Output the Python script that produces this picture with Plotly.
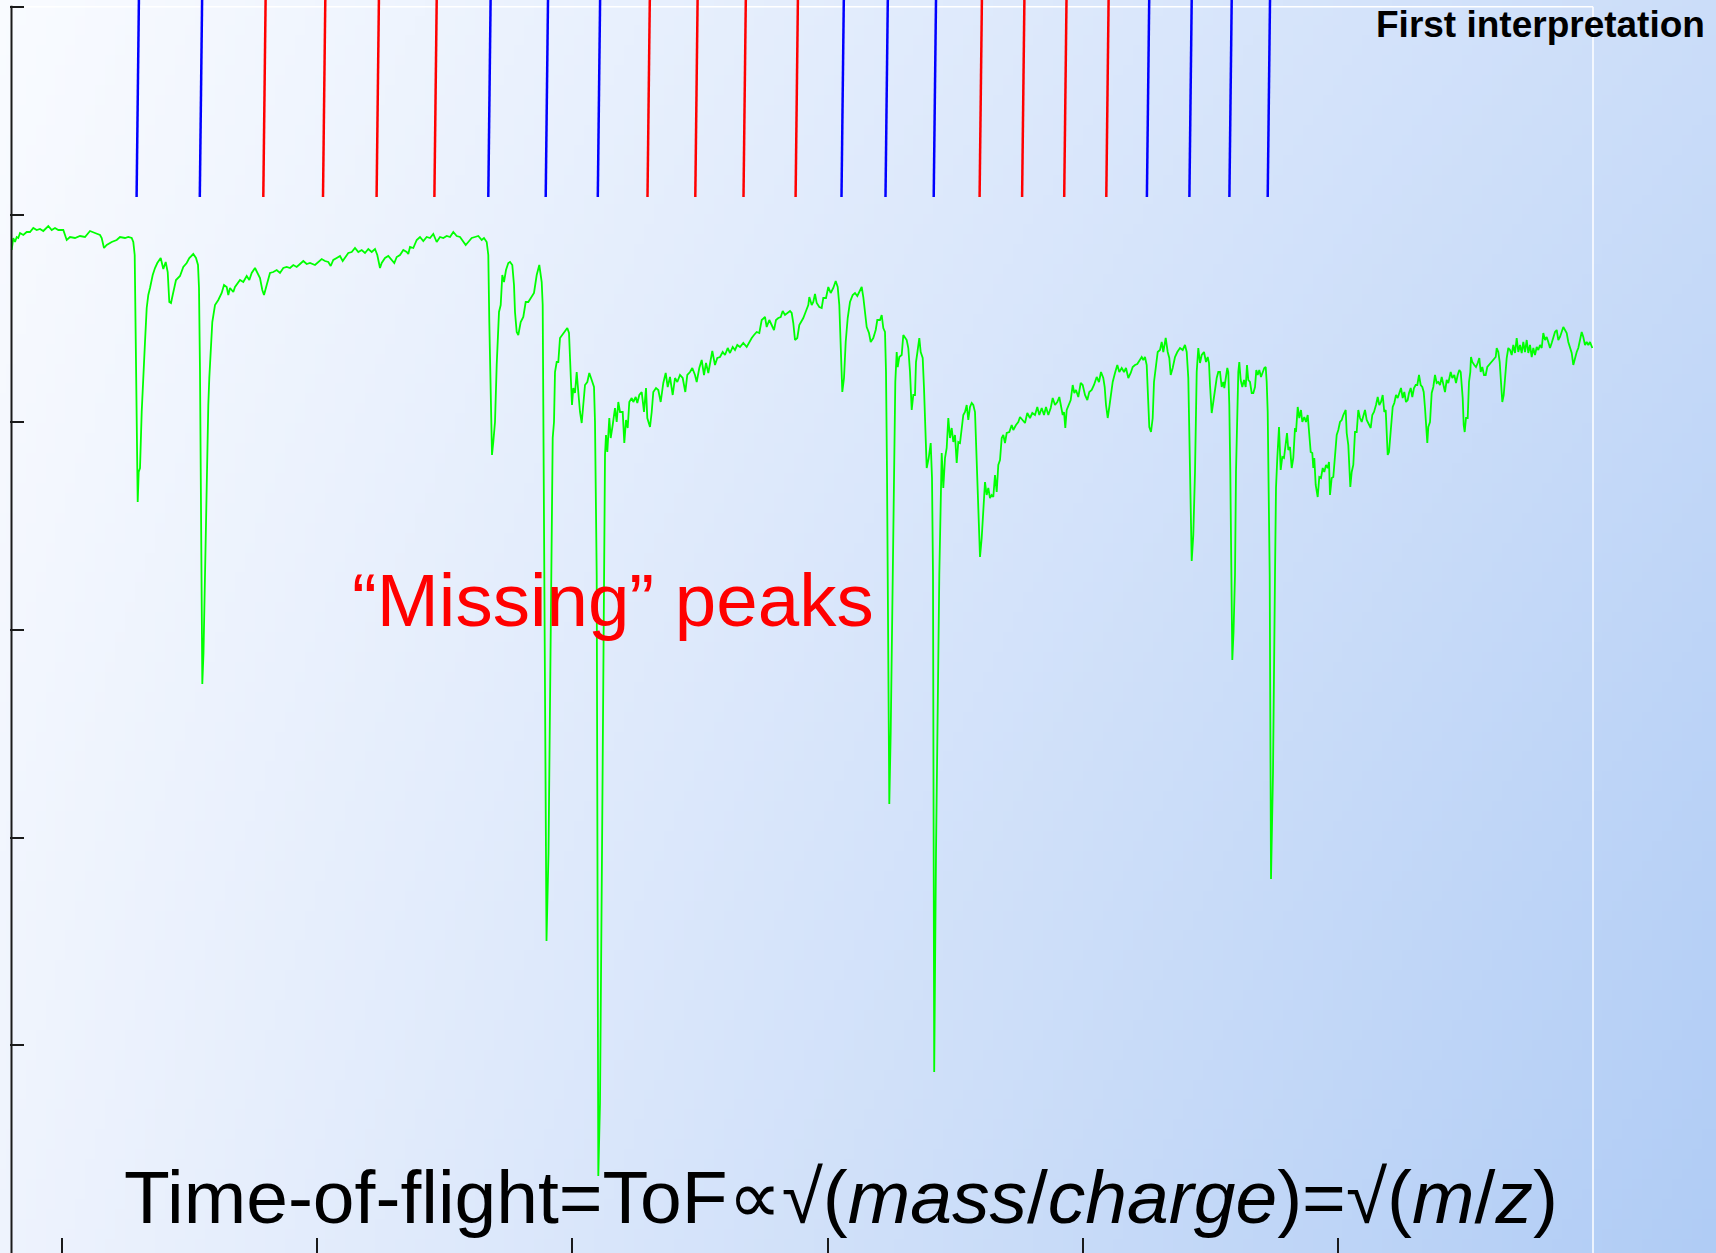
import base64
import struct
import zlib

import numpy as np
import plotly.graph_objects as go

# ---------------- data (ToF channel, detector counts) ----------------
seg1_tof = [11.7, 13.3, 15, 16.7, 18.3, 20, 23.3, 26.7, 30, 33.3, 36.7, 40, 43.3, 48.3, 51.7, 55, 58.3, 63.3,
            66.7, 70, 75, 80, 85, 90, 95, 100, 101.7, 104, 106.7, 111.7, 116.7, 120, 125, 128.3, 131.7, 133.3,
            134.7, 135.3, 136, 136.7, 137.7, 138.7, 140, 141.7, 143.3, 145, 146.7, 148.3, 150, 152.7, 155,
            157.3, 160.7, 163.3, 165.7, 167.7, 169.3, 171, 172.7, 176, 180, 183.3, 186.7, 189.3, 193.3, 196,
            198, 199, 200, 201]
seg1_cnt = [1003, 1015, 1011, 1016, 1015, 1020, 1018, 1021, 1021, 1025, 1023, 1024, 1022, 1027, 1023, 1025, 1023, 1023,
            1013, 1016, 1015, 1017, 1016, 1022, 1020, 1018, 1015, 1005, 1008, 1011, 1013, 1016, 1015, 1016, 1015, 1011,
            998, 948, 881, 815, 751, 781, 785, 841, 881, 911, 945, 958, 965, 978, 985,
            990, 995, 984, 991, 981, 951, 950, 958, 973, 977, 986, 990, 995, 999, 995,
            988, 965, 881, 748]

seg2_tof = [202.3, 203.5, 205, 206.7, 208.3, 209.3, 210.7, 212.3, 215, 218.3, 221.7, 224, 226.7, 228.3, 230, 233.3,
            235, 238.3, 240, 243.3, 246.7, 249.3, 251.7, 255, 257.3, 260, 262.3, 264, 266.7, 270, 273.3, 276.7, 280,
            283.3, 286.7, 290, 293.3, 296.7, 300, 303.3, 306.7, 310, 315, 318.3, 321.7, 325, 328.3, 330.7, 333.3,
            336.7, 340, 342.7, 345, 348.3, 351.7, 355, 358.3, 361.7, 365, 368.3, 371.7, 375, 377.3, 380, 381.7,
            385, 388.3, 391.7, 394.3, 396.7, 400]
seg2_cnt = [569, 600, 678, 781, 848, 875, 908, 931, 948, 953, 960, 968, 966, 958, 965, 961,
            966, 970, 973, 971, 977, 973, 980, 985, 980, 975, 963, 958, 968, 980, 981, 983, 980,
            985, 986, 985, 988, 986, 989, 992, 989, 990, 988, 991, 994, 992, 991, 987, 993,
            995, 997, 992, 995, 1000, 1001, 1005, 1001, 1003, 1000, 1004, 1001, 1004, 998, 985, 990,
            995, 997, 993, 990, 996, 998]

seg3_tof = [403.3, 406.7, 408.3, 410, 413.3, 416.7, 420, 423.3, 426.7, 430, 433.3, 436.7, 440, 443.3, 446.7, 450,
            453.3, 456.7, 460, 463.3, 465.7, 468.3, 471.7, 475, 478.3, 481.7, 484, 486.7, 488.3, 489.3, 490.7, 492,
            493.3, 495, 496.7, 499, 500.7, 502.3, 504, 506, 508.3, 510, 512.3, 514, 515, 516.7, 518.3, 520.7,
            523.3, 525.7, 528.3, 531.7, 534, 536.7, 539.3, 541.7, 542.7, 543.3, 544.3]
seg3_cnt = [1003, 1001, 999, 1006, 1005, 1013, 1016, 1012, 1016, 1015, 1019, 1011, 1016, 1015, 1017, 1016,
            1021, 1017, 1016, 1011, 1008, 1011, 1015, 1016, 1017, 1013, 1015, 1011, 998, 931, 865, 798,
            811, 831, 888, 941, 948, 978, 971, 983, 990, 991, 988, 968, 941, 921, 918, 931,
            936, 951, 951, 956, 960, 978, 988, 971, 948, 848, 678]

seg4_tof = [546.5, 548.5, 551.7, 552.7, 554, 555, 556.7, 558.3, 560, 563.3, 565.7, 567.3, 569, 570, 571, 572,
            573.3, 575, 576.7, 578.3, 580, 581.7, 583.3, 585, 587.3, 589.3, 591.7, 594, 595, 596, 596.7, 598.3,
            600, 602, 604, 605, 606, 607.3, 609.3, 610.7, 612.7, 615, 616.7, 618.3, 620, 622.7, 624.3, 626,
            627.7, 629.3, 631.7, 633.3, 635.7, 637.3, 639.3]
seg4_cnt = [312, 400, 678, 815, 831, 881, 891, 891, 915, 920, 923, 925, 920, 901, 871, 848,
            865, 860, 881, 861, 841, 830, 845, 868, 871, 880, 873, 866, 831, 748, 678, 77,
            150, 400, 678, 798, 818, 801, 835, 815, 828, 845, 831, 851, 841, 841, 810, 833,
            825, 851, 855, 851, 856, 850, 858]

seg5_tof = [641.7, 644, 646, 647.3, 650, 651.7, 653.3, 656, 658.3, 660.7, 663.3, 665.7, 667.7, 670, 672.7, 675,
            677.3, 680, 682.7, 685.3, 687.3, 690, 692.3, 695, 696.7, 699.3, 701.7, 704, 706, 708.3, 710.7, 712.3,
            715, 717.3, 720, 722.7, 725, 727.7, 730, 732.7, 735, 737.3, 740, 743.3, 746.7, 749.3, 751.7, 754,
            756.7, 759.3, 761.7, 765, 766.7, 769.3, 771.7, 774, 776, 778.3, 780.7, 782.7, 785, 787.3, 790,
            791.7, 793.3, 795, 797.3, 799.3]
seg5_cnt = [861, 841, 865, 835, 826, 841, 861, 865, 863, 851, 870, 880, 866, 876, 858, 875,
            871, 878, 875, 861, 878, 881, 885, 878, 871, 885, 893, 878, 890, 880, 895, 902,
            888, 895, 896, 901, 898, 905, 900, 906, 903, 908, 906, 910, 906, 911, 915, 918,
            921, 920, 933, 936, 926, 933, 928, 923, 933, 935, 936, 942, 938, 940, 942,
            940, 930, 913, 915, 928]

seg6_tof = [803.3, 806, 808.3, 809.3, 811.7, 813.3, 815, 816.7, 819.3, 821.7, 823.3, 826, 828.3, 830.7, 833.3,
            835.7, 837.7, 839.3, 840.7, 842.3, 844, 845.7, 847.7, 850, 852.7, 855, 857.3, 859.3, 861.7, 863.3,
            865, 866.7, 869, 870.7, 873.3, 875.7, 877.3, 880, 881.7, 883.3, 885, 886, 887, 887.7, 889.3, 890.7,
            892.7, 894, 895.3, 896.7, 897.7, 899.3, 901.7, 903.3, 905, 906.7, 908.3, 910, 911.7, 913.3, 915,
            916, 917.3, 919.3, 920.7, 922.7, 924, 925.3, 926.7, 928.7, 930.7, 932, 933]
seg6_cnt = [935, 942, 948, 956, 948, 951, 959, 950, 946, 945, 955, 955, 966, 960, 965,
            972, 966, 948, 915, 861, 875, 911, 935, 951, 958, 960, 957, 961, 966, 956,
            938, 926, 920, 911, 915, 923, 933, 933, 938, 925, 921, 881, 781, 678, 449, 520,
            678, 815, 871, 901, 886, 896, 898, 918, 916, 913, 905, 881, 843, 858, 858,
            891, 900, 915, 901, 895, 865, 821, 785, 795, 810, 775, 678]

seg7_tof = [934.2, 936, 939.3, 940.7, 941.7, 943.3, 945, 946.7, 948.3, 950, 951.7, 953.3, 955, 956.7, 958.3,
            960, 961.7, 963.3, 965, 966.7, 968.3, 970, 971.7, 973.3, 975, 976, 977.3, 978.7, 980, 981.7, 983.3,
            985, 986.7, 988.3, 990, 991.7, 993.3, 995, 996.7, 998.3, 1000]
seg7_cnt = [181, 400, 678, 765, 800, 765, 795, 805, 835, 815, 825, 811, 818, 790, 811,
            810, 828, 838, 841, 848, 833, 846, 850, 848, 841, 808, 771, 728, 696, 715, 748,
            771, 758, 765, 755, 758, 756, 778, 761, 788, 793]

seg8_tof = [1001.7, 1003.3, 1005, 1006.7, 1009.3, 1011.7, 1013.3, 1016, 1018.3, 1020, 1022.7, 1025, 1027.3, 1030,
            1032.3, 1035, 1037.3, 1039.3, 1041.7, 1044, 1046, 1048.3, 1050.7, 1052.7, 1055, 1057.3, 1059.3, 1061,
            1062.7, 1064, 1065.3, 1066.7, 1069, 1070.7, 1072.7, 1074.3, 1076, 1078.3, 1080.7, 1082.7, 1085, 1087.3,
            1089.3, 1091.7, 1094, 1096.7, 1099, 1101, 1103.3, 1104.7, 1106, 1107.7, 1109.3, 1111, 1112.7, 1115,
            1117.3, 1119.3, 1121.7, 1124, 1126, 1128.3, 1130.7, 1132.7, 1135, 1137.3, 1140, 1141.7, 1143.3, 1145,
            1146.7, 1148, 1149.3, 1151, 1152.7, 1154, 1156, 1157.7, 1160, 1161.7, 1163.3, 1165.7, 1167.7, 1169.3,
            1170.7, 1172.7, 1175, 1177.3, 1180, 1182.7, 1185, 1186.7, 1188.3, 1189.3, 1190.7, 1191.7, 1193.3, 1195]
seg8_cnt = [815, 818, 810, 820, 821, 828, 823, 828, 831, 836, 833, 830, 840, 835,
            840, 838, 846, 838, 845, 838, 846, 838, 845, 855, 848, 851, 856, 848,
            838, 841, 825, 843, 848, 853, 868, 860, 863, 856, 870, 868, 858, 853,
            861, 863, 868, 876, 871, 881, 875, 866, 848, 835, 846, 858, 871, 880,
            888, 881, 885, 881, 885, 875, 880, 886, 888, 889, 893, 896, 893, 896,
            888, 861, 826, 821, 835, 871, 891, 901, 903, 911, 901, 915, 901, 895,
            878, 885, 896, 901, 905, 903, 908, 901, 875, 815, 748, 692, 718, 781]

seg9_tof = [1196.7, 1198.3, 1200, 1201.7, 1204, 1206, 1207.7, 1209, 1210, 1211.7, 1213.3, 1215, 1216.7, 1218.3,
            1220, 1221.7, 1223.3, 1224.3, 1226, 1227.3, 1228.3, 1229.3, 1230.3, 1231.3, 1232.3, 1233.5, 1235, 1236,
            1237, 1237.7, 1238.3, 1239.3, 1240.7, 1242.3, 1244, 1245.7, 1247, 1248.3, 1250, 1251.7, 1253.3, 1255,
            1256.3, 1257.7, 1259.3, 1261, 1262.7, 1264.3, 1265.7, 1266.7, 1267.7, 1268.7, 1269.7]
seg9_cnt = [881, 905, 890, 898, 901, 891, 896, 890, 868, 840, 851, 866, 875, 881,
            881, 866, 871, 865, 876, 885, 881, 848, 781, 678, 593, 620, 678, 781,
            831, 848, 881, 891, 873, 866, 873, 866, 888, 873, 871, 860, 860, 866,
            883, 878, 883, 876, 881, 885, 886, 871, 841, 781, 678]

seg10_tof = [1271, 1273, 1275, 1276, 1277.3, 1279, 1280.7, 1282.3, 1284, 1285.7, 1287, 1288.3, 1290, 1291.7, 1293.3,
             1295, 1296, 1297.7, 1299.3, 1301, 1302.3, 1304.3, 1306, 1307.7, 1309, 1310.7, 1312.3, 1313.3, 1314.3,
             1315.7, 1317.7, 1319.3, 1321, 1322.7, 1324.3, 1326, 1327.7, 1329, 1330, 1331.7, 1333.3, 1335, 1336.7,
             1338.3, 1340, 1341.7, 1343.3, 1345.7, 1346.7, 1348.3, 1349.3, 1350.3, 1351.7, 1353.3, 1355, 1356.7,
             1358.3, 1360, 1361.7, 1363.3, 1365, 1366.7, 1368.3, 1370.7, 1372.3, 1374, 1376, 1377.7, 1379.3, 1381,
             1382.7, 1384.3, 1385.7, 1386.7, 1387.7, 1389, 1390.3, 1391.7, 1392.7, 1394.3, 1396, 1397.7, 1399.3]
seg10_cnt = [374, 480, 678, 765, 795, 826, 783, 796, 795, 808, 820, 803, 806, 785, 795,
             825, 821, 846, 835, 843, 831, 836, 831, 838, 821, 801, 800, 785, 795,
             768, 756, 776, 775, 785, 781, 788, 785, 791, 758, 775, 776, 796, 818,
             823, 831, 833, 838, 843, 820, 808, 785, 766, 781, 788, 821, 821,
             843, 835, 831, 838, 843, 833, 830, 825, 838, 841, 848, 856, 848, 851,
             858, 841, 843, 821, 798, 801, 815, 831, 846, 850, 858, 855, 860]

seg11_tof = [1401, 1402.7, 1404.3, 1406, 1407.7, 1409, 1410.7, 1412.3, 1414, 1415.7, 1417.3, 1419, 1420.7, 1422.3,
             1423.7, 1425, 1426.3, 1427.3, 1428.3, 1430, 1431.7, 1433.3, 1435, 1436.7, 1438.3, 1440, 1441.7, 1443.3,
             1445, 1446.7, 1448.3, 1450.7, 1452.3, 1454.3, 1456, 1457.7, 1459.3, 1460.7, 1461.7, 1462.7, 1463.7,
             1464.7, 1466, 1467.7, 1469, 1470.3, 1471, 1472.3, 1474.3, 1476, 1477.7, 1479.3, 1480.7, 1482.3, 1484,
             1485.7, 1487.3, 1489, 1490.7, 1492.3, 1494, 1495.7, 1496.7, 1498.3, 1499.7, 1501, 1502.3, 1503.7, 1505,
             1506.7, 1508.3, 1510, 1511.7, 1513.3, 1515, 1516.7, 1518.3, 1520, 1521.7, 1523.3, 1525, 1526.7, 1528.3,
             1530, 1531.7, 1533.3, 1535, 1536.7, 1538.3, 1540, 1541.7, 1543.3, 1545, 1546.7, 1548.3, 1550, 1551.7,
             1553.3, 1555, 1556.7, 1558.3, 1560, 1561.7, 1563.3, 1565, 1566.7, 1568.3, 1570, 1571.7, 1573.3, 1575,
             1576.7, 1578.3, 1580, 1581.7, 1583.3, 1585, 1586.7, 1588.3, 1590, 1592.3]
seg11_cnt = [865, 855, 861, 851, 853, 860, 865, 856, 865, 868, 868, 878, 868, 866,
             861, 845, 818, 810, 826, 831, 860, 866, 878, 870, 871, 868, 876, 870,
             861, 873, 870, 881, 875, 878, 870, 878, 883, 881, 871, 855, 828,
             821, 835, 835, 871, 881, 896, 891, 888, 886, 890, 895, 881, 886, 878,
             878, 886, 888, 891, 893, 895, 896, 905, 901, 891, 868, 851, 858, 875,
             895, 905, 903, 898, 908, 900, 915, 901, 908, 900, 911, 901, 913, 900,
             908, 896, 905, 898, 906, 903, 908, 905, 920, 913, 916, 911, 905, 910,
             915, 921, 923, 913, 916, 921, 926, 923, 920, 911, 905, 900, 888, 895,
             901, 905, 913, 921, 916, 908, 911, 908, 911, 905]

# assigned peak positions (ToF channel): blue = observed, red = "missing"
observed_peaks = [136.6, 199.8, 488.3, 545.7, 597.8, 841.5, 885.5, 933.7, 1146.9, 1189.4, 1229.4, 1267.7]
missing_peaks = [263.3, 323.0, 376.6, 434.4, 647.5, 695.3, 743.5, 795.6, 979.6, 1022.1, 1064.2, 1106.3]

# unlabeled axis ticks
x_tick_vals = [62.0, 317.2, 572.4, 827.6, 1082.8, 1338.0, 1593.2]
y_tick_vals = [207.7, 415.4, 623.1, 830.8, 1038.5, 1246.2]

# ---------------- layout constants ----------------
W, H = 1716, 1253
M_L, M_R = 10, 122
X_RANGE = [10, 1594]
Y_RANGE = [0, 1253]
FRAME_TOP = 1246.2
STICK_BASE = 1056
STICK_TILT = 2.3
FONT = "Liberation Sans, Arial, Helvetica, sans-serif"

segs_x = [seg1_tof, seg2_tof, seg3_tof, seg4_tof, seg5_tof, seg6_tof, seg7_tof, seg8_tof, seg9_tof, seg10_tof, seg11_tof]
segs_y = [seg1_cnt, seg2_cnt, seg3_cnt, seg4_cnt, seg5_cnt, seg6_cnt, seg7_cnt, seg8_cnt, seg9_cnt, seg10_cnt, seg11_cnt]
for i, (a, b) in enumerate(zip(segs_x, segs_y)):
    assert len(a) == len(b), (i, len(a), len(b))
tof = np.concatenate([np.asarray(s, float) for s in segs_x])
counts = np.concatenate([np.asarray(s, float) for s in segs_y])


def stick_xy(peaks):
    xs, ys = [], []
    for p in peaks:
        xs += [p, p + STICK_TILT, None]
        ys += [STICK_BASE, Y_RANGE[1], None]
    return xs, ys


def gradient_uri(w=172, h=126):
    tl = np.array([249, 251, 255], float)
    tr = np.array([203, 221, 249], float)
    bl = np.array([238, 243, 253], float)
    br = np.array([176, 204, 245], float)
    u = np.linspace(0, 1, w)[None, :, None]
    v = np.linspace(0, 1, h)[:, None, None]
    img = tl * (1 - u) * (1 - v) + tr * u * (1 - v) + bl * (1 - u) * v + br * u * v
    img = np.clip(np.round(img), 0, 255).astype(np.uint8)
    raw = b"".join(b"\x00" + img[r].tobytes() for r in range(h))

    def chunk(tag, data):
        body = tag + data
        return struct.pack(">I", len(data)) + body + struct.pack(">I", zlib.crc32(body) & 0xFFFFFFFF)

    png = (b"\x89PNG\r\n\x1a\n"
           + chunk(b"IHDR", struct.pack(">IIBBBBB", w, h, 8, 2, 0, 0, 0))
           + chunk(b"IDAT", zlib.compress(raw, 9))
           + chunk(b"IEND", b""))
    return "data:image/png;base64," + base64.b64encode(png).decode()


fig = go.Figure()

fig.add_trace(go.Scatter(x=tof, y=counts, mode="lines",
                         line=dict(color="#00ff00", width=1.8), hoverinfo="skip"))

bx, by = stick_xy(observed_peaks)
fig.add_trace(go.Scatter(x=bx, y=by, mode="lines", line=dict(color="#0000ff", width=2.5), hoverinfo="skip"))
rx, ry = stick_xy(missing_peaks)
fig.add_trace(go.Scatter(x=rx, y=ry, mode="lines", line=dict(color="#ff0000", width=2.5), hoverinfo="skip"))

pw = W - M_L - M_R
fig.add_layout_image(dict(source=gradient_uri(), xref="paper", yref="paper",
                          x=-M_L / pw, y=1, sizex=W / pw, sizey=1,
                          xanchor="left", yanchor="top", sizing="stretch", layer="below"))

shapes = [
    # white frame (top and right)
    dict(type="line", xref="x", yref="y", x0=X_RANGE[0] + 1, x1=1593, y0=FRAME_TOP, y1=FRAME_TOP,
         line=dict(color="white", width=1.5), layer="below"),
    dict(type="line", xref="x", yref="y", x0=1593, x1=1593, y0=0, y1=FRAME_TOP,
         line=dict(color="white", width=1.5), layer="below"),
    # left axis line
    dict(type="line", xref="x", yref="y", x0=11.5, x1=11.5, y0=0, y1=FRAME_TOP + 1,
         line=dict(color="#1a1a1a", width=2), layer="above"),
]

annotations = [
    dict(text="<b>First interpretation</b>", xref="paper", yref="paper",
         x=(1707 - M_L) / pw, y=1 - 1.5 / H, xanchor="right", yanchor="top", showarrow=False,
         font=dict(family=FONT, size=37, color="black")),
    dict(text="\u201cMissing\u201d peaks", xref="x", yref="y", x=350, y=609,
         xanchor="left", yanchor="bottom", showarrow=False,
         font=dict(family=FONT, size=74.5, color="#ff0000")),
    dict(text="Time-of-flight=ToF\u221d\u221a(<i>mass</i>/<i>charge</i>)=\u221a(<i>m</i>/<i>z</i>)",
         xref="x", yref="y", x=841, y=12, xanchor="center", yanchor="bottom", showarrow=False,
         font=dict(family=FONT, size=75, color="black")),
]

fig.update_layout(
    width=W, height=H,
    margin=dict(l=M_L, r=M_R, t=0, b=0, pad=0, autoexpand=False),
    paper_bgcolor="#dfe9fb",
    plot_bgcolor="rgba(0,0,0,0)",
    showlegend=False,
    shapes=shapes,
    annotations=annotations,
    xaxis=dict(range=X_RANGE, showgrid=False, zeroline=False, showline=False,
               tickmode="array", tickvals=x_tick_vals, showticklabels=False,
               ticks="inside", ticklen=15, tickwidth=1.5, tickcolor="#1a1a1a", fixedrange=True),
    yaxis=dict(range=Y_RANGE, showgrid=False, zeroline=False, showline=False,
               tickmode="array", tickvals=y_tick_vals, showticklabels=False,
               ticks="inside", ticklen=14, tickwidth=2, tickcolor="#1a1a1a", fixedrange=True),
)

fig.write_html(
    "out.html",
    config={"displayModeBar": False},
    post_script="document.body.style.margin='0';document.body.style.overflow='hidden';",
)
